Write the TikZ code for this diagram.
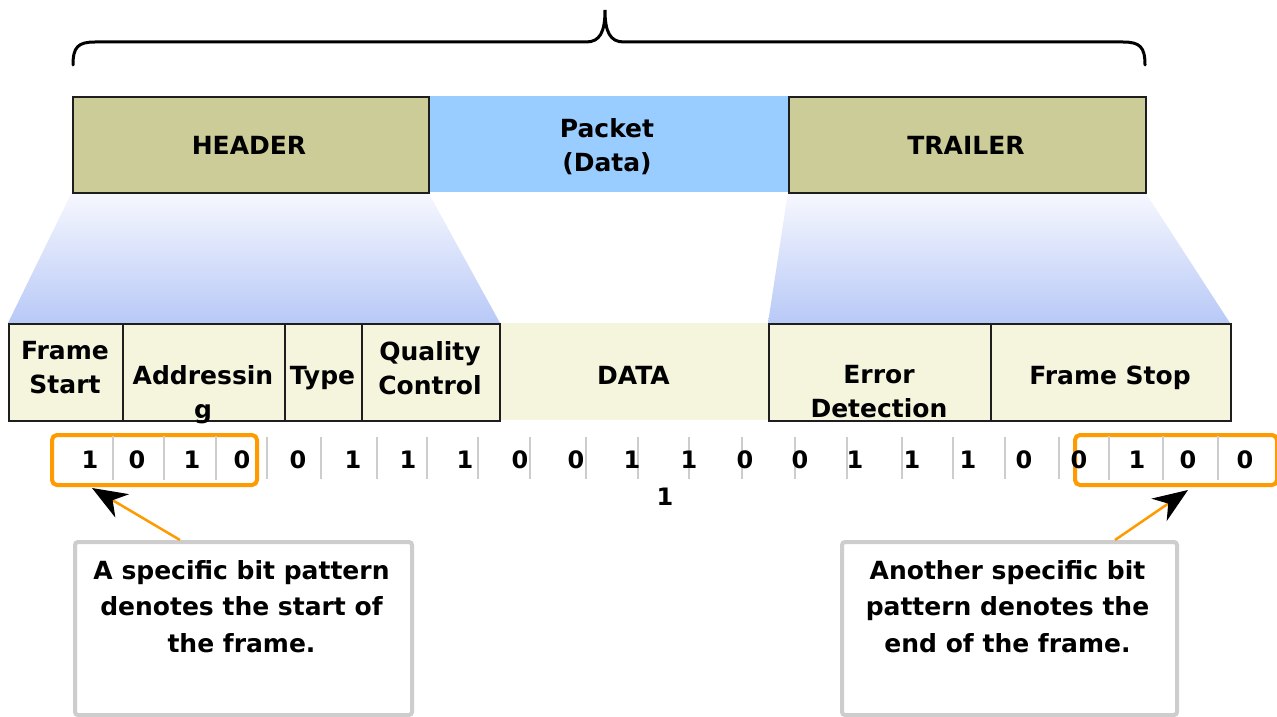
\documentclass[tikz,border=0pt]{standalone}
\usepackage{fontspec}
\setmainfont{DejaVu Sans}
\usetikzlibrary{arrows.meta}

\definecolor{hdr}{HTML}{CCCC99}
\definecolor{pkt}{HTML}{99CCFF}
\definecolor{cream}{HTML}{F5F5DD}
\definecolor{fadeTop}{HTML}{F7F8FE}
\definecolor{fadeBot}{HTML}{B8C9F7}
\definecolor{orng}{HTML}{FF9A00}
\definecolor{sep}{HTML}{CDCDCD}
\definecolor{edge}{HTML}{1E1E1E}

\begin{document}
\begin{tikzpicture}[x=1pt,y=-1pt,
  lbl/.style={font=\fontsize{25}{34}\selectfont\bfseries, align=center, inner sep=0pt, anchor=base},
  note/.style={font=\fontsize{25}{36.5}\selectfont\bfseries, align=center, inner sep=0pt, anchor=base},
  blockbox/.style={anchor=north west, inner sep=0pt, minimum height=96},
  olivebox/.style={blockbox, fill=hdr, draw=edge, line width=2pt},
  bluebox/.style={blockbox, fill=pkt},
  cell/.style={anchor=north west, inner sep=0pt, minimum height=97, fill=cream, draw=edge, line width=1.6pt},
  plaincell/.style={anchor=north west, inner sep=0pt, minimum height=97, fill=cream},
  bit/.style={font=\fontsize{24}{24}\selectfont\bfseries, inner sep=0pt, anchor=base},
  sepline/.style={draw=sep, line width=2.6pt},
  obox/.style={draw=orng, line width=4pt, rounded corners=5pt, fill=white, anchor=north west, minimum width=205, minimum height=50, inner sep=0pt},
  callout/.style={draw=sep, line width=4pt, rounded corners=3pt, fill=white, anchor=north west, minimum width=337, minimum height=173, inner sep=0pt},
  fade/.style={top color=fadeTop, bottom color=fadeBot},
  pointer/.style={draw=orng, line width=2.5pt, -{Stealth[black, length=35pt, width=27pt, inset=11pt]}},
]
\useasboundingbox (0,0) rectangle (1277,717);
\fill[white] (0,0) rectangle (1277,717);

% curly brace over the whole frame
\draw[line width=3pt, line cap=round]
  (73,65) .. controls (73,47) and (78,42) .. (95,42) -- (586,42)
  .. controls (600,42) and (605,32) .. (605,10)
  .. controls (605,32) and (610,42) .. (624,42) -- (1123,42)
  .. controls (1140,42) and (1145,47) .. (1145,65);

% expansion fans from header and trailer down to the field row
\shade[fade] (72,192) -- (428,192) -- (500,323) -- (8,323) -- cycle;
\shade[fade] (788,192) -- (1145,192) -- (1230,323) -- (768,323) -- cycle;

% top row: header, packet, trailer
\node[bluebox, minimum width=360] (packet) at (428,96) {};
\node[olivebox, minimum width=356] (header) at (72,96) {};
\node[olivebox, minimum width=357] (trailer) at (788,96) {};
\node[lbl] (packetT) at (607,171) {Packet\\(Data)};
\node[lbl] (headerT) at (249,154) {HEADER};
\node[lbl] (trailerT) at (966,154) {TRAILER};

% field row
\node[plaincell, minimum width=269] (data) at (499,323) {};
\node[cell, minimum width=114] (fstart) at (8,323) {};
\node[cell, minimum width=162] (addr) at (122,323) {};
\node[cell, minimum width=77] (type) at (284,323) {};
\node[cell, minimum width=138] (qual) at (361,323) {};
\node[cell, minimum width=222] (err) at (768,323) {};
\node[cell, minimum width=240] (fstop) at (990,323) {};

% labels are placed by the baseline of their last line
\node[lbl] (fstartT) at (65,393) {Frame\\Start};
\node[lbl] (addrT) at (203,418) {Addressin\\g};
\node[lbl] (typeT) at (322.5,384) {Type};
\node[lbl] (qualT) at (430,394) {Quality\\Control};
\node[lbl] (dataT) at (633.5,384) {DATA};
\node[lbl] (errT) at (879,417) {Error\\Detection};
\node[lbl] (fstopT) at (1110,384) {Frame Stop};

% bit stream separators
\foreach \x in {267,321,377,427,478,530,586,638,689,742,795,847,902,953,1005,1059}
  \draw[sepline] (\x,437) -- (\x,479);

% start and stop flag boxes
\node[obox] (flagL) at (50,433) {};
\node[obox, minimum width=202] (flagR) at (1073,433) {};
\foreach \x in {113,164,216,1109,1163,1218}
  \draw[sepline] (\x,436) -- (\x,480);

% bits
\foreach \x/\v [count=\i] in {90/1,137/0,192/1,242/0,
    298/0,353/1,408/1,465/1,520/0,576/0,632/1,689/1,745/0,800/0,855/1,912/1,968/1,1024/0,
    1079/0,1137/1,1188/0,1245/0}
  \node[bit] (bit\i) at (\x,468) {\v};
\node[bit] (bitX) at (665,505) {1};

% callouts
\node[callout] (callL) at (73,540) {};
\node[callout, minimum width=335] (callR) at (840,540) {};
\node[note] (callLT) at (241.5,652) {A specific bit pattern\\denotes the start of\\the frame.};
\node[note] (callRT) at (1007.5,652) {Another specific bit\\pattern denotes the\\end of the frame.};

\coordinate (tipL) at (92,488);
\coordinate (tipR) at (1188,490);
\draw[pointer] ([xshift=-63.5pt]callL.north) -- (tipL);
\draw[pointer] ([xshift=105.5pt]callR.north) -- (tipR);
\end{tikzpicture}
\end{document}
